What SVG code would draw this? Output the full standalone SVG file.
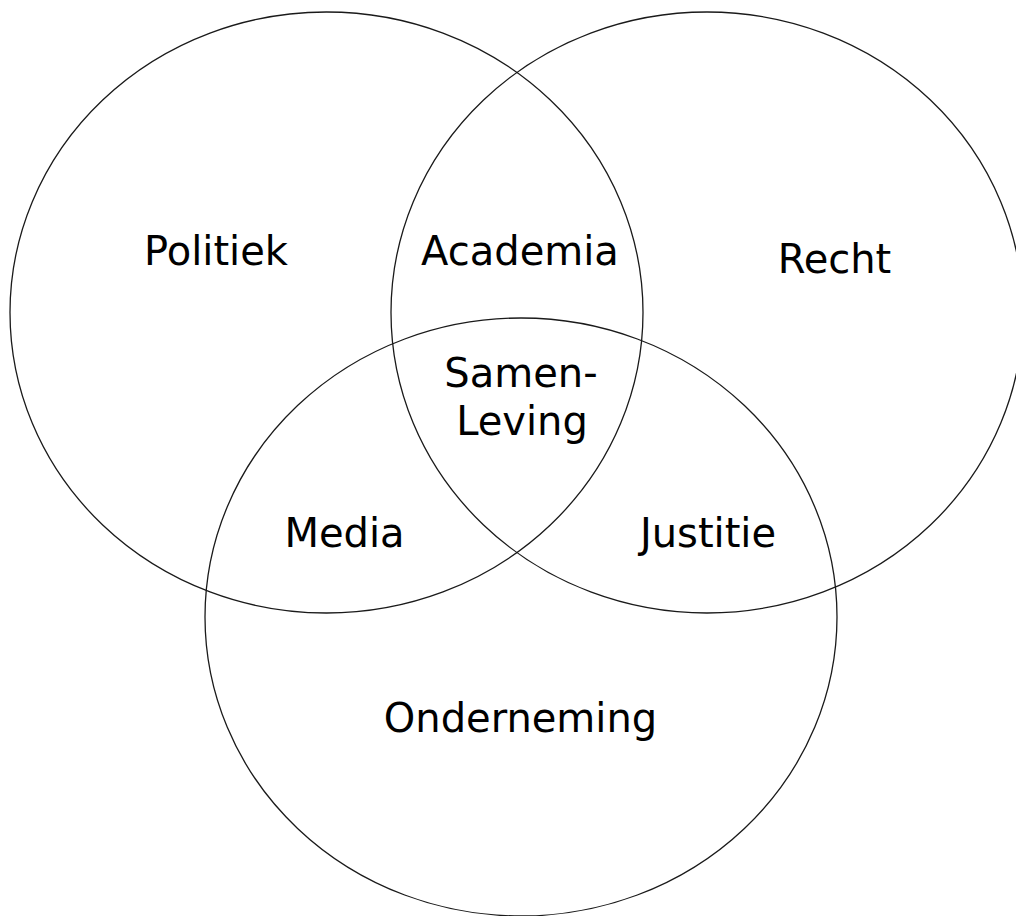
<svg xmlns="http://www.w3.org/2000/svg" width="1016" height="916" viewBox="0 0 1016 916">
<style>
.c{fill:none;stroke:#1a1a1a;stroke-width:1.3}
.t{font-family:"DejaVu Sans",sans-serif;font-size:40px;fill:#000;text-anchor:middle}
</style>
<rect width="1016" height="916" fill="#fff"/>
<g id="politiek"><ellipse class="c" cx="326.5" cy="312.5" rx="316.5" ry="300.5"/><text class="t" x="216" y="265">Politiek</text></g>
<g id="recht"><ellipse class="c" cx="707" cy="312.5" rx="316" ry="300.5"/><text class="t" x="834.5" y="273">Recht</text></g>
<g id="onderneming"><ellipse class="c" cx="521" cy="617" rx="316" ry="299"/><text class="t" x="520.5" y="732">Onderneming</text></g>
<g id="academia"><text class="t" x="520" y="265">Academia</text></g>
<g id="samenleving"><text class="t" x="521" y="387">Samen-</text><text class="t" x="522" y="435">Leving</text></g>
<g id="media"><text class="t" x="344.5" y="547">Media</text></g>
<g id="justitie"><text class="t" x="708" y="547">Justitie</text></g>
<g id="connectors"></g>
</svg>
